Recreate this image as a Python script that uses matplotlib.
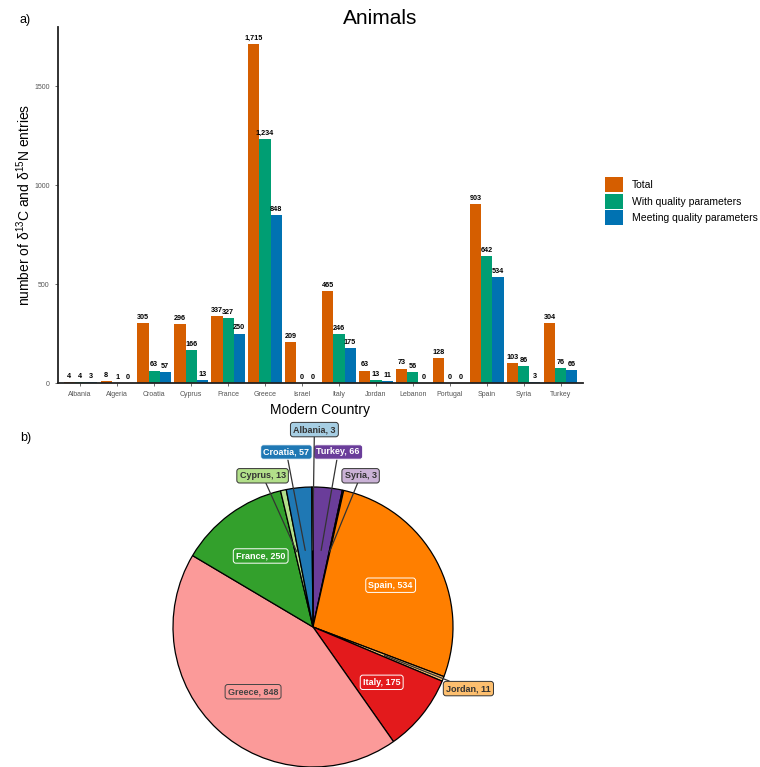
import numpy as np
import matplotlib
matplotlib.use('Agg')
import matplotlib.pyplot as plt

plt.rcParams['font.family'] = ['Liberation Sans', 'DejaVu Sans']
plt.rcParams['mathtext.fontset'] = 'custom'
plt.rcParams['mathtext.rm'] = 'Liberation Sans'
plt.rcParams['mathtext.default'] = 'regular'

# bar chart data
countries = ['Albania', 'Algeria', 'Croatia', 'Cyprus', 'France', 'Greece', 'Israel',
             'Italy', 'Jordan', 'Lebanon', 'Portugal', 'Spain', 'Syria', 'Turkey']
total = [4, 8, 305, 296, 337, 1715, 209, 465, 63, 73, 128, 903, 103, 304]
with_qp = [4, 1, 63, 166, 327, 1234, 0, 246, 13, 56, 0, 642, 86, 76]
meeting_qp = [3, 0, 57, 13, 250, 848, 0, 175, 11, 0, 0, 534, 3, 66]
series_names = ['Total', 'With quality parameters', 'Meeting quality parameters']
series_colors = ['#D55E00', '#009E73', '#0072B2']

# pie data (clockwise from 12 o'clock)
pie_countries = ['Turkey', 'Syria', 'Spain', 'Jordan', 'Italy', 'Greece', 'France',
                 'Cyprus', 'Croatia', 'Albania']
pie_values = [66, 3, 534, 11, 175, 848, 250, 13, 57, 3]
pie_colors = ['#6A3D9A', '#CAB2D6', '#FF7F00', '#FDBF6F', '#E31A1C', '#FB9A99',
              '#33A02C', '#B2DF8A', '#1F78B4', '#A6CEE3']
pie_text_colors = ['white', '#333333', 'white', '#333333', 'white', '#444444',
                   'white', '#333333', 'white', '#333333']

# outside labels (repelled) offsets in pie radius units
outside = {
    'Albania': (0.01, 1.41),
    'Croatia': (-0.19, 1.25),
    'Turkey': (0.18, 1.25),
    'Cyprus': (-0.36, 1.08),
    'Syria': (0.34, 1.08),
    'Jordan': (1.11, -0.44),
}

W, H = 760, 767
fig = plt.figure(figsize=(W / 100, H / 100), dpi=100)

# ---- a) bar chart
ax = fig.add_axes([58 / W, 1 - 383 / H, (583 - 58) / W, (383 - 27) / H])
x = np.arange(len(countries))
bw = 0.3
for i, (vals, name, col) in enumerate(zip([total, with_qp, meeting_qp], series_names, series_colors)):
    bars = ax.bar(x + (i - 1) * bw, vals, width=bw, color=col, label=name)
    ax.bar_label(bars, labels=[f'{v:,}' for v in vals], padding=1.5, fontsize=5.2,
                 fontweight='bold', color='black')

ax.set_xlim(-0.6, len(countries) - 0.4)
ax.set_ylim(0, 1800)
ax.set_yticks([0, 500, 1000, 1500])
ax.set_xticks(x)
ax.set_xticklabels(countries)
ax.tick_params(axis='both', labelsize=5, colors='#555555', length=2.5, width=0.6)
for s in ['top', 'right']:
    ax.spines[s].set_visible(False)
for s in ['left', 'bottom']:
    ax.spines[s].set_linewidth(1.3)
    ax.spines[s].set_color('#222222')
ax.set_xlabel('Modern Country', fontsize=10, labelpad=3)
ax.set_ylabel(r'number of δ$^{13}$C and δ$^{15}$N entries', fontsize=10, labelpad=1)

fig.text(380 / W, 1 - 18 / H, 'Animals', fontsize=15, ha='center', va='center')
fig.text(20 / W, 1 - 20 / H, 'a)', fontsize=9, ha='left', va='center')

fig.legend(loc='upper left', bbox_to_anchor=(605 / W, 1 - 177 / H), frameon=False,
           fontsize=7.5, handlelength=1.75, handleheight=1.85, handletextpad=0.8,
           labelspacing=0.15, borderpad=0, borderaxespad=0)

# ---- b) pie chart
R = 140
cx, cy = 313, 627
pax = fig.add_axes([(cx - R) / W, 1 - (cy + R) / H, 2 * R / W, 2 * R / H])
wedges, _ = pax.pie(pie_values, colors=pie_colors, startangle=90, counterclock=False,
                    radius=1, wedgeprops=dict(edgecolor='black', linewidth=0.9))
pax.set_xlim(-1, 1)
pax.set_ylim(-1, 1)
pax.set_aspect('equal')
pax.axis('off')

tot = sum(pie_values)
cum = np.cumsum([0] + pie_values)
for i, name in enumerate(pie_countries):
    mid = np.deg2rad(90 - 360 * (cum[i] + cum[i + 1]) / 2 / tot)
    lab = f'{name}, {pie_values[i]}'
    box = dict(boxstyle='round,pad=0.3,rounding_size=0.3', fc=pie_colors[i],
               ec=pie_text_colors[i], lw=0.7)
    if name in outside:
        lx, ly = outside[name]
        tx, ty = 0.55 * np.cos(mid), 0.55 * np.sin(mid)
        pax.annotate(lab, xy=(tx, ty), xytext=(lx, ly), ha='center', va='center',
                     fontsize=6.5, fontweight='bold', color=pie_text_colors[i], bbox=box,
                     annotation_clip=False,
                     arrowprops=dict(arrowstyle='-', color='#333333', lw=0.9,
                                     shrinkA=0, shrinkB=0))
    else:
        pax.text(0.63 * np.cos(mid), 0.63 * np.sin(mid), lab, ha='center', va='center',
                 fontsize=6.5, fontweight='bold', color=pie_text_colors[i], bbox=box)

fig.text(20 / W, 1 - 438 / H, 'b)', fontsize=9, ha='left', va='center')

fig.savefig('out.png', dpi=100)
